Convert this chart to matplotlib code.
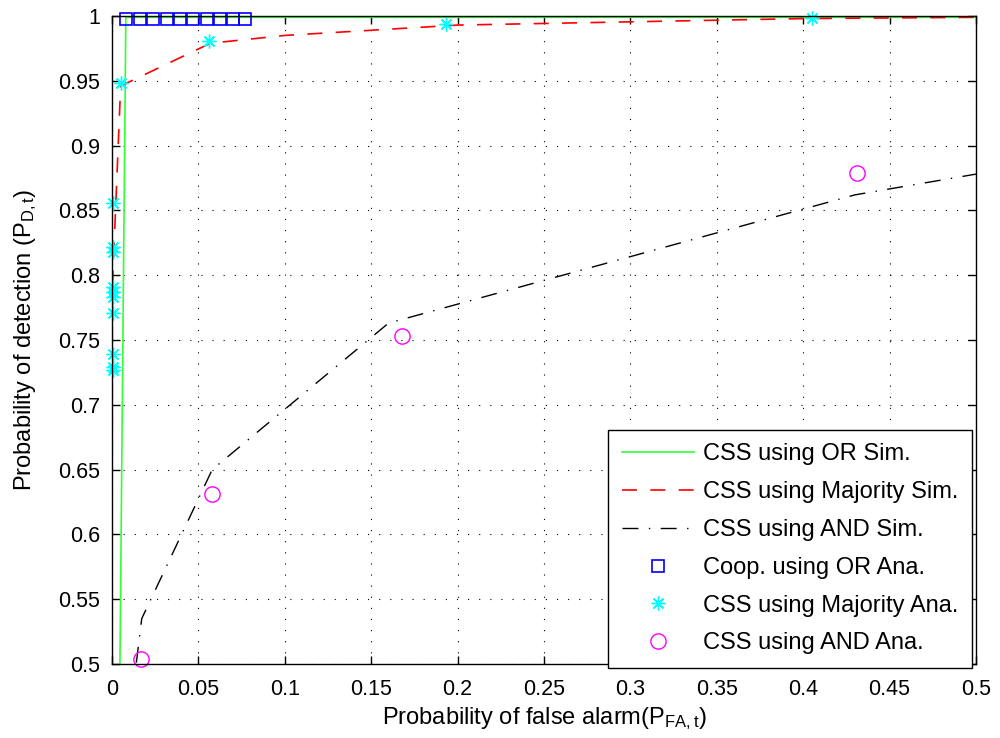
import numpy as np
import matplotlib
matplotlib.use("Agg")
import matplotlib.pyplot as plt
from matplotlib.ticker import FuncFormatter, MultipleLocator

plt.rcParams.update({
    "font.family": ["Liberation Sans", "DejaVu Sans"],
    "font.size": 17,
    "mathtext.fontset": "custom",
    "mathtext.rm": "Liberation Sans",
    "mathtext.it": "Liberation Sans",
})

# ── Data ─────────────────────────────────────────────────────────────────────
or_sim_pfa = [0.0, 0.0046, 0.008, 0.5]
or_sim_pd = [0.0, 0.5, 0.999, 0.999]

maj_sim_pfa = [0.0, 0.0, 0.0002, 0.005, 0.057, 0.1, 0.2, 0.4, 0.5]
maj_sim_pd = [0.0, 0.5, 0.79, 0.946, 0.979, 0.985, 0.993, 0.998, 0.999]

and_sim_pfa = [0.0, 0.014, 0.0172, 0.058, 0.16, 0.43, 0.5]
and_sim_pd = [0.0, 0.5, 0.535, 0.650, 0.763, 0.862, 0.878]

or_ana_pfa = [0.0081, 0.0162, 0.0240, 0.0317, 0.0394, 0.047, 0.055, 0.0625, 0.070, 0.077]
or_ana_pd = [0.998] * 10

maj_ana_pfa = [0.0004, 0.0004, 0.0006, 0.0004, 0.0004, 0.0004, 0.0004, 0.0004,
               0.0006, 0.0006, 0.005, 0.056, 0.193, 0.405]
maj_ana_pd = [0.727, 0.7294, 0.739, 0.771, 0.7835, 0.787, 0.791, 0.818,
              0.8215, 0.856, 0.948, 0.981, 0.994, 0.9985]

and_ana_pfa = [0.0166, 0.0577, 0.168, 0.431]
and_ana_pd = [0.5036, 0.631, 0.753, 0.879]

# ── Figure ───────────────────────────────────────────────────────────────────
fig = plt.figure(figsize=(10, 7.38), dpi=100)
ax = fig.add_axes([0.112, 1 - 664 / 738, 0.864, 648 / 738])

ax.plot(or_sim_pfa, or_sim_pd, color="#33FF33", lw=1.2, label="CSS using OR Sim.")
ax.plot(maj_sim_pfa, maj_sim_pd, color="#FF0000", lw=1.2, dashes=(9, 8),
        label="CSS using Majority Sim.")
ax.plot(and_sim_pfa, and_sim_pd, color="black", lw=1.0, dashes=(11.5, 7.5, 1, 7.5),
        label="CSS using AND Sim.")
ax.plot(or_ana_pfa, or_ana_pd, ls="none", marker="s", ms=8.5, mfc="none",
        mec="#0000FF", mew=1.2, clip_on=False, label="Coop. using OR Ana.")
ax.plot(maj_ana_pfa, maj_ana_pd, ls="none", marker=(8, 2, 0), ms=10,
        mec="#00FFFF", mew=1.0, clip_on=False, label="CSS using Majority Ana.")
ax.plot(and_ana_pfa, and_ana_pd, ls="none", marker="o", ms=11, mfc="none",
        mec="#FF00FF", mew=1.0, clip_on=False, label="CSS using AND Ana.")

ax.set_xlim(0, 0.5)
ax.set_ylim(0.5, 1.0)
ax.xaxis.set_major_locator(MultipleLocator(0.05))
ax.yaxis.set_major_locator(MultipleLocator(0.05))
fmt = FuncFormatter(lambda v, p: f"{round(v, 4):g}")
ax.xaxis.set_major_formatter(fmt)
ax.yaxis.set_major_formatter(fmt)
ax.tick_params(direction="in", top=True, right=True, length=6, width=1, labelsize=15.5)
ax.tick_params(axis="x", pad=11)
ax.tick_params(axis="y", pad=8.5)
ax.grid(True, color="black", ls=(0, (1, 9)), lw=0.8)
for s in ax.spines.values():
    s.set_linewidth(1.0)

ax.set_xlabel(r"Probability of false alarm(P$_{\mathrm{FA,t}}$)")
ax.set_ylabel(r"Probability of detection (P$_{\mathrm{D,t}}$)")
ax.xaxis.set_label_coords(0.5, -0.063)
ax.yaxis.set_label_coords(-0.084, 0.5)

leg = ax.legend(loc="lower right", bbox_to_anchor=(0.995, -0.006), borderaxespad=0,
                fancybox=False, framealpha=1, edgecolor="black",
                handlelength=3.05, handletextpad=0.38, labelspacing=0.67,
                borderpad=0.57, fontsize=17)
leg.get_frame().set_linewidth(1.0)
leg.set_zorder(5)

fig.savefig("out.png", dpi=100)
